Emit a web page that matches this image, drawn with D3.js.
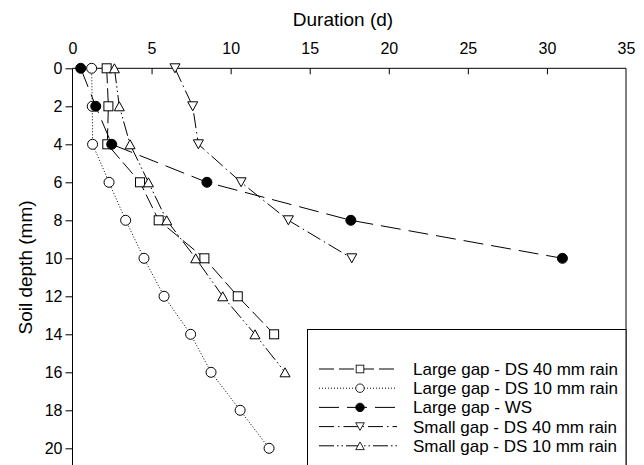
<!DOCTYPE html>
<html>
<head>
<meta charset="utf-8">
<script src="https://cdn.jsdelivr.net/npm/d3@7"></script>
<style>
  body { margin: 0; background: #fff; }
  svg { font-family: "Liberation Sans", Arial, sans-serif; }
</style>
</head>
<body>
<div id="chart"></div>
<script>
const w = 644;
const h = 465;
const padL = 72.5, padR = 626, padT = 68.3;

// depths (mm) and durations (d)
const depths = [0, 2, 4, 6, 8, 10, 12, 14, 16, 18, 20];
const largeDS40 = [2.16, 2.27, 2.2, 4.27, 5.45, 8.34, 10.45, 12.75];
const largeDS10 = [1.21, 1.25, 1.27, 2.31, 3.36, 4.52, 5.79, 7.47, 8.76, 10.6, 12.43];
const largeWS = [0.52, 1.47, 2.48, 8.5, 17.6, 30.98];
const smallDS40 = [6.48, 7.6, 7.96, 10.66, 13.65, 17.66];
const smallDS10 = [2.65, 2.96, 3.64, 4.8, 5.96, 7.79, 9.5, 11.54, 13.44];

const xTicks = [0, 5, 10, 15, 20, 25, 30, 35];
const yTicks = [0, 2, 4, 6, 8, 10, 12, 14, 16, 18, 20];

const series = [
  {name: "Large gap - DS 40 mm rain", vals: largeDS40, shape: "square", dash: "15,5", fill: "#fff"},
  {name: "Large gap - DS 10 mm rain", vals: largeDS10, shape: "circle", dash: "1,2", fill: "#fff"},
  {name: "Large gap - WS", vals: largeWS, shape: "circle", dash: "20,8", fill: "#000"},
  {name: "Small gap - DS 40 mm rain", vals: smallDS40, shape: "down", dash: "15,4,1.5,4", fill: "#fff"},
  {name: "Small gap - DS 10 mm rain", vals: smallDS10, shape: "up", dash: "15,3,1.5,3,1.5,3", fill: "#fff"}
];

let svg = d3.select("#chart").append("svg").attr("width", w).attr("height", h);

let x = d3.scaleLinear().domain([0, 35]).range([padL, padR]);
let y = d3.scaleLinear().domain([0, 21]).range([padT, padT + 19 * 21]);

// frame
svg.append("line").attr("x1", padR).attr("x2", padR).attr("y1", padT).attr("y2", h)
  .attr("stroke", "#000").attr("stroke-width", 1);

// top axis, ticks inward
let xAxis = svg.append("g").attr("transform", "translate(0," + padT + ")")
  .call(d3.axisTop(x).tickValues(xTicks).tickSize(-6).tickPadding(14));
xAxis.select(".domain").attr("d", "M" + padL + ",0H" + padR);
xAxis.selectAll(".tick line").attr("display", (d) => (d == 0 || d == 35) ? "none" : null);
xAxis.selectAll("text").attr("font-size", 16).attr("font-family", "Liberation Sans, Arial, sans-serif");

// left axis, ticks outward
let yAxis = svg.append("g").attr("transform", "translate(" + padL + ",0)")
  .call(d3.axisLeft(y).tickValues(yTicks).tickSize(7).tickPadding(3));
yAxis.select(".domain").attr("d", "M0," + padT + "V" + h);
yAxis.selectAll("text").attr("font-size", 16).attr("font-family", "Liberation Sans, Arial, sans-serif");

svg.append("text").attr("x", 343).attr("y", 25.7)
  .attr("text-anchor", "middle").attr("font-size", 19).text("Duration (d)");
svg.append("text").attr("transform", "translate(25," + 267.5 + ") rotate(-90)")
  .attr("text-anchor", "middle").attr("dy", "0.35em").attr("font-size", 19).text("Soil depth (mm)");

function marker(g, shape, fill) {
  if (shape == "square") {
    g.append("rect").attr("x", -4.5).attr("y", -4.5).attr("width", 9).attr("height", 9)
      .attr("fill", fill).attr("stroke", "#000");
  } else if (shape == "circle") {
    g.append("circle").attr("r", 5).attr("fill", fill).attr("stroke", "#000");
  } else if (shape == "down") {
    g.append("path").attr("d", "M-5,-4.5L5,-4.5L0,4.5Z").attr("fill", fill).attr("stroke", "#000");
  } else {
    g.append("path").attr("d", "M-5,4.5L5,4.5L0,-4.5Z").attr("fill", fill).attr("stroke", "#000");
  }
}

let line = d3.line().x((d) => x(d[0])).y((d) => y(d[1]));

// lines first, then markers on top
series.forEach(function(s) {
  let pts = s.vals.map((v, i) => [v, depths[i]]);
  svg.append("path").datum(pts).attr("d", line).attr("fill", "none")
    .attr("stroke", "#000").attr("stroke-width", 1).attr("stroke-dasharray", s.dash);
});
series.forEach(function(s) {
  s.vals.forEach(function(v, i) {
    let g = svg.append("g").attr("transform", "translate(" + x(v) + "," + y(depths[i]) + ")");
    marker(g, s.shape, s.fill);
  });
});

// legend
let lg = svg.append("g");
lg.append("rect").attr("x", 307.5).attr("y", 329.5).attr("width", padR - 307.5).attr("height", 200)
  .attr("fill", "#fff").attr("stroke", "#000");
series.forEach(function(s, i) {
  let yy = 369 + i * 19.2;
  lg.append("line").attr("x1", 319).attr("x2", 397).attr("y1", yy).attr("y2", yy)
    .attr("stroke", "#000").attr("stroke-dasharray", s.dash);
  let g = lg.append("g").attr("transform", "translate(360," + yy + ") scale(0.85)");
  marker(g, s.shape, s.fill);
  lg.append("text").attr("x", 413).attr("y", yy).attr("dy", "0.35em").attr("font-size", 17).text(s.name);
});
</script>
</body>
</html>
